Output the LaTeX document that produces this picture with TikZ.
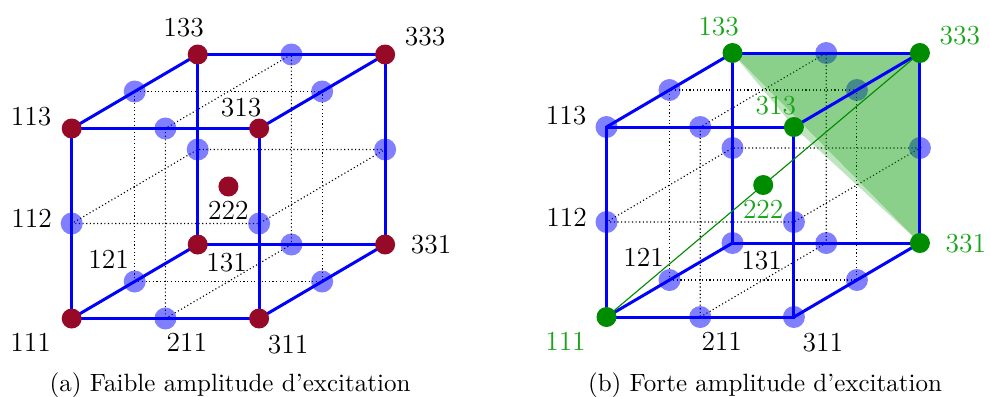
\documentclass[tikz,border=0pt]{standalone}
\usetikzlibrary{calc}

\definecolor{vertexred}{RGB}{150,10,40}
\definecolor{vertexgreen}{RGB}{0,140,0}
\definecolor{labelgreen}{RGB}{25,165,25}
\definecolor{fillgreen}{RGB}{0,150,0}

\tikzset{
  edge/.style={blue, line width=1.2pt},
  gridline/.style={densely dotted, line width=0.45pt},
  lbl/.style={font=\fontsize{11}{13}\selectfont, inner sep=0pt},
  glbl/.style={lbl, text=labelgreen},
  caption/.style={anchor=base, inner sep=0pt},
}

\begin{document}
\begin{tikzpicture}[x=0.4pt, y=0.4pt]
    % 1 unite = 1 pixel de l'image, origine en bas a gauche
    \useasboundingbox (0,0) rectangle (990,396);

    % Les 27 points du reseau pour chaque cube (a = gauche, b = droite)
    % c111 = coin avant bas gauche, c333 = coin arriere haut droit
    \foreach \c/\ox/\oy in {a/71.7/77.5, b/606.5/79}{
        \begin{scope}[shift={(\ox,\oy)}, x={(37.48pt,0pt)}, y={(25.2pt,14.8pt)}, z={(0pt,38pt)}]
            \foreach \i in {1,2,3}
                \foreach \j in {1,2,3}
                    \foreach \k in {1,2,3}
                        \coordinate (\c\i\j\k) at (\i-1,\j-1,\k-1);
        \end{scope}
    }

    \foreach \c in {a,b}{
        % 1. Plans medians en pointille
        \draw[gridline] (\c121) -- (\c321) -- (\c323) -- (\c123) -- cycle;
        \draw[gridline] (\c211) -- (\c231) -- (\c233) -- (\c213) -- cycle;
        \draw[gridline] (\c112) -- (\c312) -- (\c332) -- (\c132) -- cycle;

        % 2. Milieux des aretes
        \foreach \p in {211,213,231,233,121,123,321,323,112,132,312,332}
            \fill[blue, opacity=0.5] (\c\p) circle[radius=11];
    }

    % coins non excites du cube (b)
    \foreach \p in {113,311,131}
        \fill[blue, opacity=0.5] (b\p) circle[radius=11];

    % 3. Plan (133)-(313)-(331) du cube (b)
    \fill[fillgreen, opacity=0.46] (b133) -- (b333) -- (b331) -- cycle;
    \fill[fillgreen, opacity=0.25] (b133) -- (b313) -- (b331) -- cycle;

    % 4. Aretes des cubes
    \foreach \c in {a,b}{
        \draw[edge] (\c111) -- (\c311) -- (\c313) -- (\c113) -- cycle;
        \draw[edge] (\c131) -- (\c331) -- (\c333) -- (\c133) -- cycle;
        \draw[edge] (\c111) -- (\c131);
        \draw[edge] (\c311) -- (\c331);
        \draw[edge] (\c313) -- (\c333);
        \draw[edge] (\c113) -- (\c133);
    }

    % 5. Diagonale (111)-(333)
    \draw[vertexgreen, line width=0.45pt] (b111) -- (b333);

    % 6. Points excites
    \foreach \p in {111,311,113,313,131,331,133,333,222}
        \fill[vertexred] (a\p) circle[radius=10];
    \foreach \p in {111,313,331,133,333,222}
        \fill[vertexgreen] (b\p) circle[radius=10];

    % 7. Etiquettes des points
    \foreach \p/\dx/\dy in {133/-14/26.5, 333/40/17.5, 113/-40.5/11.5, 313/-18/21,
                            222/0/-24, 112/-40/5, 331/46/-0.5, 121/-26/22.5,
                            131/29/-18, 111/-41/-24, 211/21.5/-24, 311/29/-26}
        \node[lbl] (la\p) at ($(a\p)+(\dx,\dy)$) {\p};
    \foreach \p/\dx/\dy in {113/-40.5/11.5, 112/-40/5, 121/-26/22.5,
                            131/29/-18, 211/21.5/-24, 311/29/-26}
        \node[lbl] (lb\p) at ($(b\p)+(\dx,\dy)$) {\p};
    \foreach \p/\dx/\dy in {133/-14/26.5, 333/40/17.5, 313/-18/21,
                            222/0/-24, 331/46/-0.5, 111/-41/-24}
        \node[glbl] (lb\p) at ($(b\p)+(\dx,\dy)$) {\p};

    % 8. Legendes
    \node[caption] (capa) at (230,5) {(a) Faible amplitude d'excitation};
    \node[caption] (capb) at (765,5) {(b) Forte amplitude d'excitation};

\end{tikzpicture}
\end{document}
